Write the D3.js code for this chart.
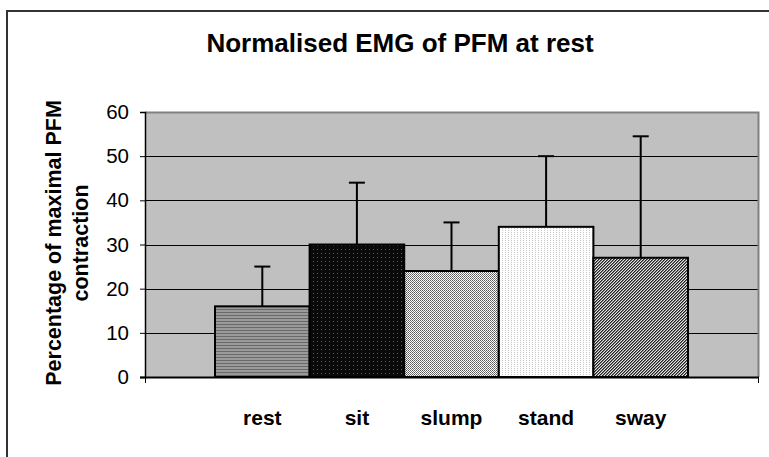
<!DOCTYPE html>
<html>
<head>
<meta charset="utf-8">
<script src="https://cdn.jsdelivr.net/npm/d3@7/dist/d3.min.js"></script>
<style>
  body { margin: 0; background: #fff; }
  svg { display: block; font-family: "Liberation Sans", Arial, sans-serif; }
</style>
</head>
<body>
<svg id="chart" width="769" height="457"></svg>
<script>
const categories = ["rest", "sit", "slump", "stand", "sway"];
const means = [16, 30, 24, 34, 27];
const upperErrors = [25, 44, 35, 50, 54.5];
const yTicks = [0, 10, 20, 30, 40, 50, 60];
const patternIds = ["pRest", "pSit", "pSlump", "pStand", "pSway"];

const svg = d3.select("#chart");
const W = 769, H = 457;
const plot = { left: 145, right: 758, top: 112, bottom: 377 };

// patterns
const defs = svg.append("defs");
function pat(id, w, h, bg, draw) {
  const p = defs.append("pattern").attr("id", id).attr("patternUnits", "userSpaceOnUse")
    .attr("width", w).attr("height", h);
  p.append("rect").attr("width", w).attr("height", h).attr("fill", bg);
  draw(p);
}
function px(p, x0, y0, c) {
  p.append("rect").attr("x", x0).attr("y", y0).attr("width", 1).attr("height", 1).attr("fill", c);
}
pat("pRest", 4, 3, "#9a9a9a", p => {
  p.append("rect").attr("x", 0).attr("y", 0).attr("width", 4).attr("height", 1).attr("fill", "#6a6a6a");
});
pat("pSit", 4, 4, "#0a0a0a", p => { px(p, 1, 1, "#5a5a5a"); });
pat("pSlump", 2, 2, "#ffffff", p => { px(p, 0, 0, "#555"); px(p, 1, 1, "#777"); });
pat("pStand", 3, 2, "#ffffff", p => { px(p, 1, 0, "#c8c8c8"); });
pat("pSway", 3, 3, "#e6e6e6", p => {
  px(p, 2, 0, "#222"); px(p, 1, 1, "#222"); px(p, 0, 2, "#222");
  px(p, 0, 0, "#777"); px(p, 2, 1, "#777"); px(p, 1, 2, "#777");
});

// chart border
svg.append("path").attr("d", `M7,${H} L7,11 L${W},11`).attr("fill", "none")
  .attr("stroke", "#333").attr("stroke-width", 2);

const x = d3.scaleBand().domain(categories).range([plot.left, plot.right])
  .paddingInner(0).paddingOuter(0.74);
const y = d3.scaleLinear().domain([0, 60]).range([plot.bottom, plot.top]);

// plot area
svg.append("rect").attr("x", plot.left).attr("y", plot.top)
  .attr("width", plot.right - plot.left).attr("height", plot.bottom - plot.top)
  .attr("fill", "#c0c0c0");

// gridlines
svg.append("g").selectAll("line").data(yTicks.filter(t => t > 0 && t < 60)).join("line")
  .attr("x1", plot.left).attr("x2", plot.right)
  .attr("y1", d => Math.round(y(d)) + 0.5).attr("y2", d => Math.round(y(d)) + 0.5)
  .attr("stroke", "#000").attr("stroke-width", 1);

// plot border top/right
svg.append("path")
  .attr("d", `M${plot.left},${plot.top + 0.5} L${plot.right + 0.5},${plot.top + 0.5} L${plot.right + 0.5},${plot.bottom}`)
  .attr("fill", "none").attr("stroke", "#808080").attr("stroke-width", 2);

// bars
svg.append("g").selectAll("rect").data(categories).join("rect")
  .attr("x", d => x(d))
  .attr("y", (d, i) => y(means[i]))
  .attr("width", x.bandwidth())
  .attr("height", (d, i) => y(0) - y(means[i]))
  .attr("fill", (d, i) => `url(#${patternIds[i]})`)
  .attr("stroke", "#000").attr("stroke-width", 2);

// error bars (upper only)
const eb = svg.append("g");
eb.selectAll("line.v").data(categories).join("line").attr("class", "v")
  .attr("x1", d => x(d) + x.bandwidth() / 2).attr("x2", d => x(d) + x.bandwidth() / 2)
  .attr("y1", (d, i) => y(means[i])).attr("y2", (d, i) => y(upperErrors[i]))
  .attr("stroke", "#000").attr("stroke-width", 2);
eb.selectAll("line.c").data(categories).join("line").attr("class", "c")
  .attr("x1", d => x(d) + x.bandwidth() / 2 - 8).attr("x2", d => x(d) + x.bandwidth() / 2 + 8)
  .attr("y1", (d, i) => y(upperErrors[i])).attr("y2", (d, i) => y(upperErrors[i]))
  .attr("stroke", "#000").attr("stroke-width", 2);

// y axis
const yAxis = d3.axisLeft(y).tickValues(yTicks).tickSize(5).tickPadding(11);
const gy = svg.append("g").attr("transform", `translate(${plot.left},0)`).call(yAxis);
gy.select(".domain").attr("stroke", "#000").attr("stroke-width", 1.5);
gy.selectAll(".tick line").attr("stroke", "#000");
gy.selectAll(".tick text").attr("font-size", 20.5).attr("fill", "#000")
  .attr("font-family", "Liberation Sans, Arial, sans-serif");

// x axis line and end ticks
svg.append("line").attr("x1", plot.left - 5).attr("x2", plot.right + 1)
  .attr("y1", plot.bottom + 0.5).attr("y2", plot.bottom + 0.5).attr("stroke", "#000").attr("stroke-width", 2);
svg.append("g").selectAll("line").data([plot.left, plot.right]).join("line")
  .attr("x1", d => d + 0.5).attr("x2", d => d + 0.5)
  .attr("y1", plot.bottom).attr("y2", plot.bottom + 6).attr("stroke", "#000");

// category labels
svg.append("g").selectAll("text").data(categories).join("text")
  .attr("x", d => x(d) + x.bandwidth() / 2)
  .attr("y", 425)
  .attr("text-anchor", "middle")
  .attr("font-size", 21).attr("font-weight", "bold")
  .text(d => d);

// title
svg.append("text").attr("x", 400).attr("y", 52).attr("text-anchor", "middle")
  .attr("font-size", 26).attr("font-weight", "bold").text("Normalised EMG of PFM at rest");

// y label
const yl = svg.append("text").attr("transform", "translate(0,243) rotate(-90)")
  .attr("text-anchor", "middle").attr("font-size", 21.5).attr("font-weight", "bold");
yl.append("tspan").attr("x", 0).attr("y", 61).text("Percentage of maximal PFM");
yl.append("tspan").attr("x", 0).attr("y", 88).text("contraction");
</script>
</body>
</html>
